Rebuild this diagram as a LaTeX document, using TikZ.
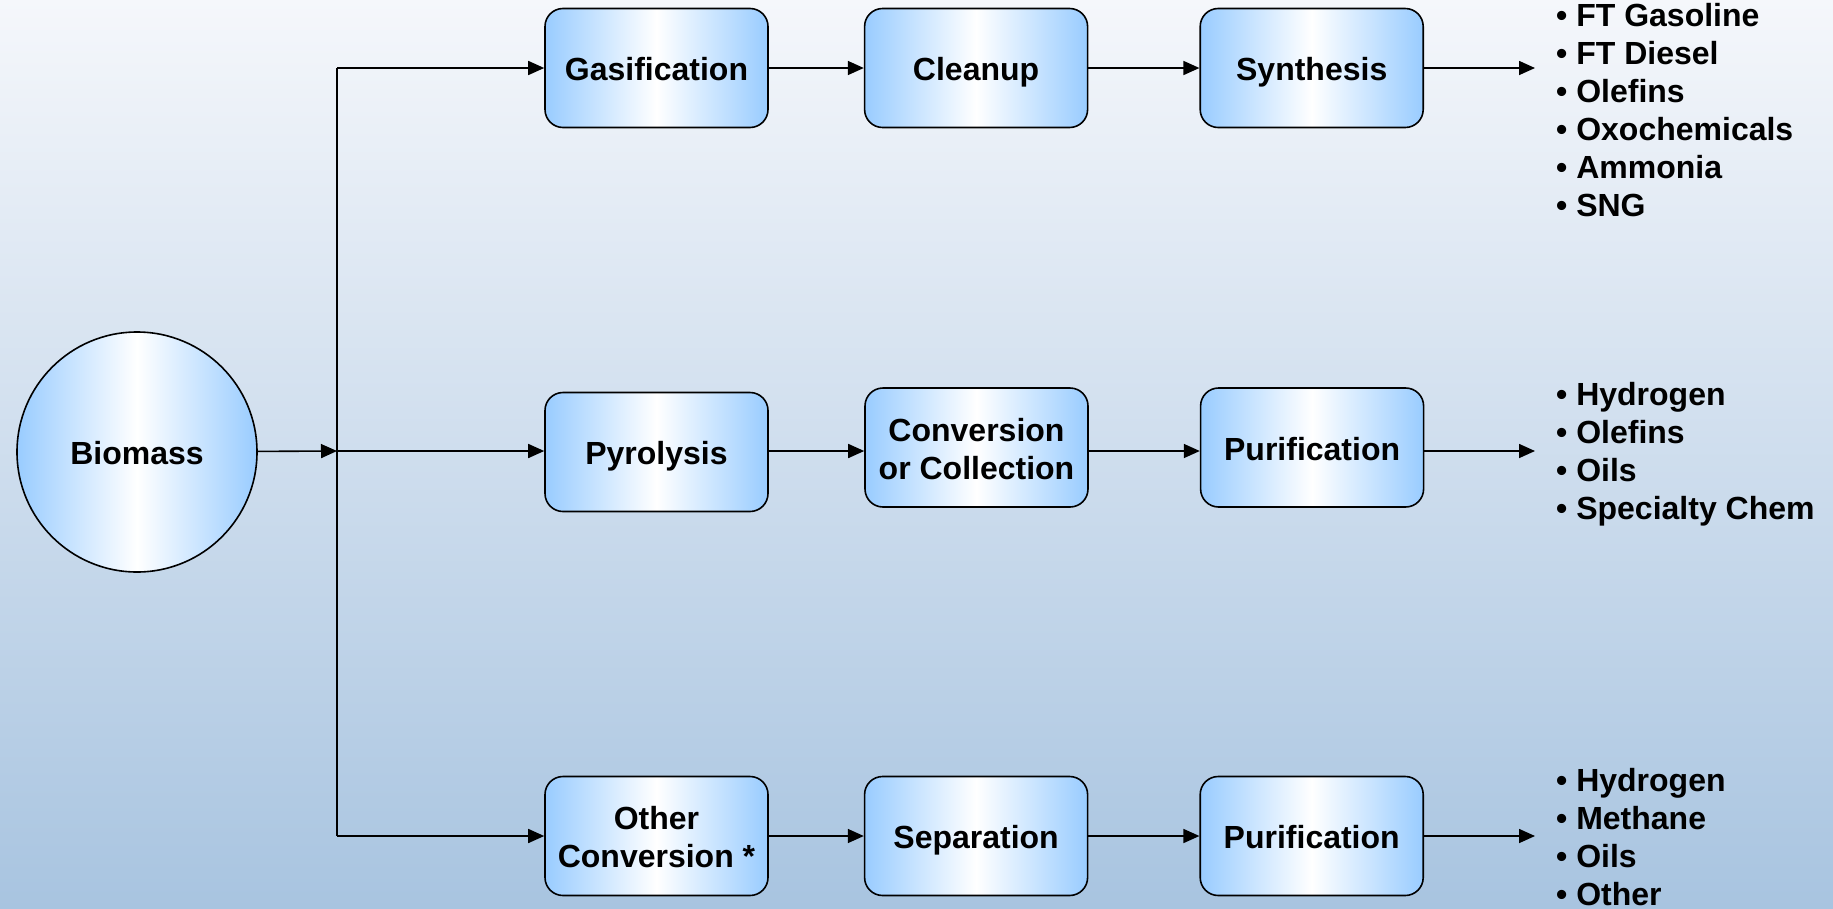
\documentclass[tikz,border=0pt]{standalone}
\usepackage{fontspec}
\setmainfont{Liberation Sans}
\usepackage{tikz}
\usetikzlibrary{arrows.meta,positioning}
\definecolor{skytop}{RGB}{245,247,251}
\definecolor{skybot}{RGB}{168,196,224}
\definecolor{boxblue}{RGB}{153,204,255}
\newcommand{\topstrut}{\rule{0pt}{32pt}}
\newcommand{\botstrut}{\rule[-6.5pt]{0pt}{6.5pt}}

\begin{document}
\begin{tikzpicture}[x=1pt,y=-1pt,every node/.style={font=\bfseries\fontsize{32}{38}\selectfont},stage/.style={draw,line width=1.6pt,rounded corners=18pt,minimum width=223pt,minimum height=119pt,inner sep=0pt,align=center,execute at begin node=\topstrut,execute at end node=\botstrut,left color=boxblue,right color=boxblue,middle color=white},twoline/.style={stage,execute at begin node={},execute at end node={}},feed/.style={circle,draw,line width=1.6pt,minimum size=240pt,inner sep=0pt,execute at begin node=\topstrut,execute at end node=\botstrut,left color=boxblue,right color=boxblue,middle color=white},yield/.style={anchor=west,align=left,inner sep=0pt},flow/.style={-{Triangle[length=16pt,width=14pt]},line width=1.6pt}]
    \shade[top color=skytop,bottom color=skybot] (0,0) rectangle (1833,908);
    \useasboundingbox (0,0) rectangle (1833,908);
    % feedstock
    \node[feed](bio) at (137,452){Biomass};
    % gasification route
    \node[stage](gas) at (656.5,68){Gasification};
    \node[stage,right=95pt of gas](clean){Cleanup};
    \node[stage,right=111pt of clean](synth){Synthesis};
    % pyrolysis route
    \node[stage](pyr) at (656.5,452){Pyrolysis};
    \node[twoline](conv) at (976.5,447.5){\topstrut Conversion\\or Collection\botstrut};
    \node[stage,right=111pt of conv](pur){Purification};
    % other route
    \node[twoline](oth) at (656.5,836){\topstrut Other\\Conversion *\botstrut};
    \node[stage,right=95pt of oth](sep){Separation};
    \node[stage,right=111pt of sep](pur2){Purification};
    % products
    \node[yield](out1) at (1556,110){• FT Gasoline\\• FT Diesel\\• Olefins\\• Oxochemicals\\• Ammonia\\• SNG};
    \node[yield](out2) at (1556,454){• Hydrogen\\• Olefins\\• Oils\\• Specialty Chem};
    \node[yield](out3) at (1556,837){• Hydrogen\\• Methane\\• Oils\\• Other};
    % splitter
    \coordinate(top) at (337,68);
    \coordinate(split) at (337,451);
    \coordinate(bot) at (337,836);
    \coordinate(end1) at (1535,68);
    \coordinate(end2) at (1535,451);
    \coordinate(end3) at (1535,836);
    \draw[line width=1.6pt] (top) -- (bot);
    \draw[flow] (bio) -- (split);
    \draw[flow] (top) -- (gas);
    \draw[flow] (split) -- (split -| pyr.west);
    \draw[flow] (bot) -- (oth);
    \draw[flow] (gas) -- (clean);
    \draw[flow] (clean) -- (synth);
    \draw[flow] (split -| pyr.east) -- (split -| conv.west);
    \draw[flow] (split -| conv.east) -- (split -| pur.west);
    \draw[flow] (oth) -- (sep);
    \draw[flow] (sep) -- (pur2);
    \draw[flow] (synth) -- (end1);
    \draw[flow] (split -| pur.east) -- (end2);
    \draw[flow] (pur2) -- (end3);
  \end{tikzpicture}
\end{document}
